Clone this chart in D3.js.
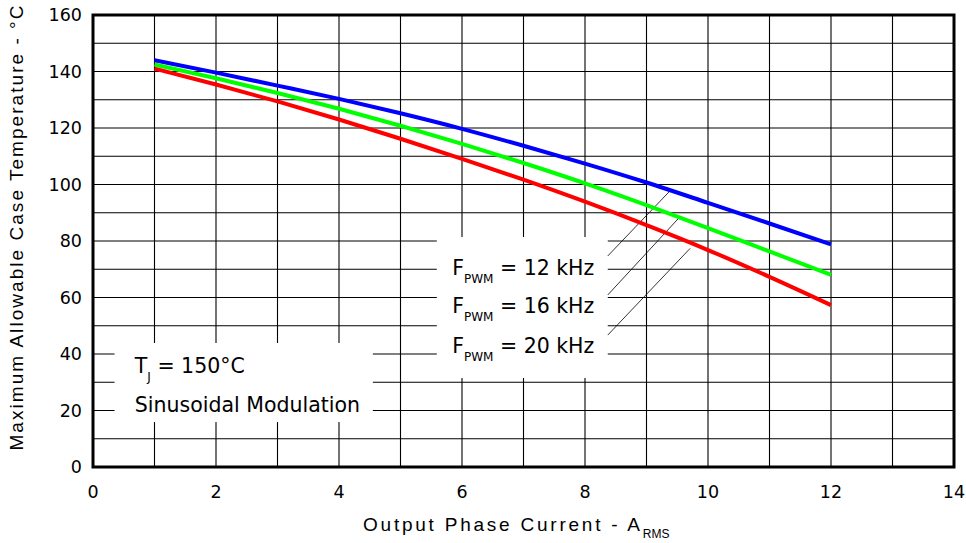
<!DOCTYPE html>
<html>
<head>
<meta charset="utf-8">
<script src="https://cdn.jsdelivr.net/npm/d3@7"></script>
<style>
    body { margin: 0; background: #fff; }
    svg { display: block; }
</style>
</head>
<body>
<svg id="SVG_CONTAINER" width="966" height="543"></svg>
<script>
let d3 = window.d3;

// current (A rms)
const current = [1, 2, 3, 4, 5, 6, 7, 8, 9, 10, 11, 12];

// max case temperature per PWM frequency
const temp12k = [144, 139.6, 135, 130.3, 125.2, 119.7, 113.7, 107.4, 100.7, 93.5, 86.2, 78.8];
const temp16k = [142.5, 137.6, 132.4, 126.8, 120.8, 114.4, 107.6, 100.4, 92.7, 84.6, 76.3, 68];
const temp20k = [141, 135.4, 129.4, 123, 116.2, 109.1, 101.7, 93.9, 85.6, 76.8, 67.3, 57.3];

const seriesNames = ["12 kHz", "16 kHz", "20 kHz"];
const xTicks = [0, 2, 4, 6, 8, 10, 12, 14];
const yTicks = [0, 20, 40, 60, 80, 100, 120, 140, 160];

const MARGIN = {
    "LEFT": 93,
    "RIGHT": 12,
    "TOP": 15,
    "BOTTOM": 76,
};

const width = 966,
      height = 543;

const colors = ["#0000ff", "#00ff00", "#ff0000"];

let svg = d3.select("#SVG_CONTAINER");

let xScale = d3.scaleLinear()
    .domain([0, 14])
    .range([MARGIN.LEFT, width - MARGIN.RIGHT]);

let yScale = d3.scaleLinear()
    .domain([0, 160])
    .range([height - MARGIN.BOTTOM, MARGIN.TOP]);

let chart = svg.append('g').attr('class', 'chart');

//grid
let grid = chart.append('g').attr('class', 'grid');
grid.selectAll('line.vx')
    .data(d3.range(1, 14))
    .enter()
    .append('line')
        .attr('x1', d => xScale(d)).attr('x2', d => xScale(d))
        .attr('y1', yScale(0)).attr('y2', yScale(160))
        .attr('stroke', '#000').attr('stroke-width', 1.1);
grid.selectAll('line.hy')
    .data(d3.range(10, 160, 10))
    .enter()
    .append('line')
        .attr('x1', xScale(0)).attr('x2', xScale(14))
        .attr('y1', d => yScale(d)).attr('y2', d => yScale(d))
        .attr('stroke', '#000').attr('stroke-width', 1.1);

//white boxes behind notes
chart.append('rect')
    .attr('x', xScale(5.59)).attr('y', yScale(81.4))
    .attr('width', xScale(8.37) - xScale(5.59))
    .attr('height', yScale(31.5) - yScale(81.4))
    .attr('fill', '#fff');
chart.append('rect')
    .attr('x', xScale(0.35)).attr('y', yScale(43.9))
    .attr('width', xScale(4.55) - xScale(0.35))
    .attr('height', yScale(15.9) - yScale(43.9))
    .attr('fill', '#fff');

//leader lines
const leaders = [
    [[8.37, 74.7], [9.38, 97.7]],
    [[8.37, 60.9], [9.52, 88.0]],
    [[8.37, 46.7], [9.71, 77.4]]
];
chart.selectAll('line.leader')
    .data(leaders)
    .enter()
    .append('line')
        .attr('x1', d => xScale(d[0][0])).attr('y1', d => yScale(d[0][1]))
        .attr('x2', d => xScale(d[1][0])).attr('y2', d => yScale(d[1][1]))
        .attr('stroke', '#000').attr('stroke-width', 0.8);

//frame
chart.append('rect')
    .attr('x', xScale(0)).attr('y', yScale(160))
    .attr('width', xScale(14) - xScale(0))
    .attr('height', yScale(0) - yScale(160))
    .attr('fill', 'none')
    .attr('stroke', '#000')
    .attr('stroke-width', 3);

//curves
let line = d3.line()
    .x((d, i) => xScale(current[i]))
    .y(d => yScale(d))
    .curve(d3.curveMonotoneX);

[temp12k, temp16k, temp20k].forEach(function (s, k) {
    chart.append('path')
        .datum(s)
        .attr('d', line)
        .attr('fill', 'none')
        .attr('stroke', colors[k])
        .attr('stroke-width', 4);
});

//tick labels
chart.selectAll('text.xt')
    .data(xTicks)
    .enter()
    .append('text')
        .attr('x', d => xScale(d))
        .attr('y', 498)
        .attr('text-anchor', 'middle')
        .style('font-family', 'DejaVu Sans')
        .style('font-size', '17.5px')
        .text(d => d);

chart.selectAll('text.yt')
    .data(yTicks)
    .enter()
    .append('text')
        .attr('x', MARGIN.LEFT - 11)
        .attr('y', d => yScale(d) + 6)
        .attr('text-anchor', 'end')
        .style('font-family', 'DejaVu Sans')
        .style('font-size', '17.5px')
        .text(d => d);

//legend notes
const noteFont = 'DejaVu Sans';
const fBase = [68, 54.5, 40.4];
seriesNames.forEach(function (name, k) {
    let t = chart.append('text')
        .attr('x', xScale(5.84))
        .attr('y', yScale(fBase[k]))
        .style('font-family', noteFont)
        .style('font-size', '20.5px');
    t.append('tspan').text('F');
    t.append('tspan').attr('dy', 8).style('font-size', '12px').text('PWM');
    t.append('tspan').attr('dy', -8).text(' = ' + name);
});

let tj = chart.append('text')
    .attr('x', xScale(0.68))
    .attr('y', yScale(33.3))
    .style('font-family', noteFont)
    .style('font-size', '20.5px');
tj.append('tspan').text('T');
tj.append('tspan').attr('dy', 8).style('font-size', '12px').text('J');
tj.append('tspan').attr('dy', -8).text(' = 150°C');

chart.append('text')
    .attr('x', xScale(0.68))
    .attr('y', yScale(19.5))
    .style('font-family', noteFont)
    .style('font-size', '20.5px')
    .text('Sinusoidal Modulation');

//x axis label
let xl = svg.append('text')
    .attr('x', 363)
    .attr('y', 531)
    .style('font-family', 'Liberation Sans')
    .style('font-size', '19px');
xl.append('tspan')
    .attr('textLength', 277)
    .attr('lengthAdjust', 'spacing')
    .text('Output Phase Current - A');
xl.append('tspan')
    .attr('dy', 7)
    .style('font-size', '12px')
    .text('RMS');

//y axis label
svg.append('text')
    .attr('transform', 'translate(23, 228)rotate(-90)')
    .attr('text-anchor', 'middle')
    .attr('textLength', 445)
    .attr('lengthAdjust', 'spacing')
    .style('font-family', 'Liberation Sans')
    .style('font-size', '19px')
    .text('Maximum Allowable Case Temperature - °C');
</script>
</body>
</html>
